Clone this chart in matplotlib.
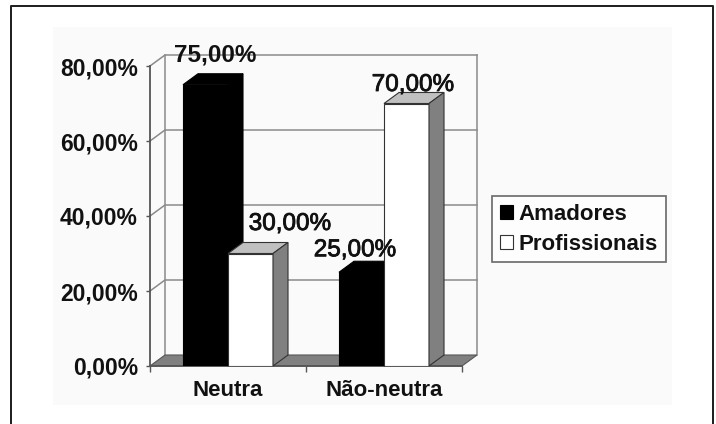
import matplotlib
matplotlib.use("Agg")
import matplotlib.pyplot as plt
import matplotlib.patheffects as pe
from matplotlib.patches import Polygon, Rectangle
from matplotlib.lines import Line2D

# ---- data -------------------------------------------------------------
categories = ["Neutra", "Não-neutra"]
series_names = ["Amadores", "Profissionais"]
amadores = [75.0, 25.0]
profissionais = [30.0, 70.0]
amadores_labels = ["75,00%", "25,00%"]
profissionais_labels = ["30,00%", "70,00%"]
yticks = [0, 20, 40, 60, 80]
ytick_labels = ["0,00%", "20,00%", "40,00%", "60,00%", "80,00%"]

# ---- layout / style ---------------------------------------------------
W, H = 716, 424
plt.rcParams["font.family"] = ["Liberation Sans", "DejaVu Sans"]

fig = plt.figure(figsize=(W / 100, H / 100), dpi=100)
fig.patch.set_facecolor("white")


def fx(px):
    return px / W


def fy(py):
    return 1 - py / H


PT = 72 / 100  # points per pixel
TXT = "#111111"
heavy = [pe.withStroke(linewidth=0.6, foreground=TXT)]

# outer frame (runs off the bottom edge)
fig.add_artist(Line2D([fx(11), fx(11), fx(712.5), fx(712.5)],
                      [0, fy(6), fy(6), 0], transform=fig.transFigure,
                      color="#222222", lw=2 * PT, zorder=5))
# faint chart-area panel
fig.add_artist(Rectangle((fx(53), fy(405)), (672 - 53) / W, (405 - 27) / H,
                         transform=fig.transFigure, facecolor="#fafafa",
                         edgecolor="none", zorder=-1))

n = len(categories)
ymax = yticks[-1]
DX = 15 / 156          # depth offset in category units
DY = 11 / 3.75         # depth offset in value units
BW = 0.2885            # bar width

ax = fig.add_axes([fx(150), fy(366), (477 - 150) / W, (366 - 55) / H])
ax.set_facecolor("none")
ax.set_xlim(0, n + DX)
ax.set_ylim(0, ymax + DY)
for s in ax.spines.values():
    s.set_visible(False)

grid_c = "#8a8a8a"
# floor
ax.add_patch(Polygon([(0, 0), (n, 0), (n + DX, DY), (DX, DY)], closed=True,
                     facecolor="#808080", edgecolor="#555555", lw=0.8,
                     zorder=1, clip_on=False))
# gridlines across the side and back walls
for y in yticks[1:]:
    ax.plot([0, DX, n + DX], [y, y + DY, y + DY], color=grid_c, lw=1.1,
            zorder=0.5, clip_on=False)
ax.plot([DX, DX], [DY, ymax + DY], color=grid_c, lw=1.1, zorder=0.5, clip_on=False)
ax.plot([n + DX, n + DX], [DY, ymax + DY], color=grid_c, lw=1.1, zorder=0.5,
        clip_on=False)
# front axes
ax.plot([0, 0], [0, ymax], color="#555555", lw=1.3, zorder=2, clip_on=False)
ax.plot([0, n], [0, 0], color="#555555", lw=1.3, zorder=2, clip_on=False)

series = [amadores, profissionais]
labels = [amadores_labels, profissionais_labels]
front_c = ["#000000", "#ffffff"]
top_c = ["#000000", "#c0c0c0"]
side_c = ["#000000", "#808080"]
edge_c = ["#000000", "#333333"]
# label offsets (pixels) from the front-top centre of each bar
label_offsets = [[(10, 30), (-6.5, 22)], [(39.5, 29.5), (6.5, 18.5)]]
label_weight = [["bold", "normal"], ["normal", "normal"]]

handles = []
for j, vals in enumerate(series):
    xs = [i + 0.5 - BW + j * BW for i in range(n)]
    bars = ax.bar(xs, vals, BW, align="edge", color=front_c[j],
                  edgecolor=edge_c[j], lw=0.8, label=series_names[j])
    handles.append(bars)
    for i, (x0, v, rect) in enumerate(zip(xs, vals, bars)):
        z = 3 + 2 * (i * len(series) + j)
        rect.set_zorder(z)
        ax.add_patch(Polygon([(x0, v), (x0 + BW, v), (x0 + BW + DX, v + DY),
                              (x0 + DX, v + DY)], closed=True,
                             facecolor=top_c[j], edgecolor=edge_c[j], lw=0.8,
                             zorder=z, clip_on=False))
        ax.add_patch(Polygon([(x0 + BW, 0), (x0 + BW + DX, DY),
                              (x0 + BW + DX, v + DY), (x0 + BW, v)], closed=True,
                             facecolor=side_c[j], edgecolor=edge_c[j], lw=0.8,
                             zorder=z, clip_on=False))
        ox, oy = label_offsets[j][i]
        t = ax.annotate(labels[j][i], (x0 + BW / 2, v), xytext=(ox, oy),
                        textcoords="offset pixels", ha="center", va="center",
                        fontsize=17.5, fontweight=label_weight[j][i],
                        color=TXT, zorder=30, annotation_clip=False)
        if label_weight[j][i] == "normal":
            t.set_path_effects(heavy)

# y axis ticks and labels
ax.set_yticks(yticks, ytick_labels)
ax.tick_params(axis="y", length=4 * PT, width=1, color="#555555",
               pad=8 * PT, labelsize=16.5, labelcolor=TXT)
for t in ax.get_yticklabels():
    t.set_fontweight("bold")

# x axis: tick marks at category boundaries, labels at centres
ax.set_xticks(range(n + 1), [""] * (n + 1))
ax.set_xticks([i + 0.5 for i in range(n)], categories, minor=True)
ax.tick_params(axis="x", which="major", length=6 * PT, width=1, color="#555555")
ax.tick_params(axis="x", which="minor", length=0, pad=14 * PT, labelsize=16,
               labelcolor=TXT)
for t in ax.get_xticklabels(minor=True):
    t.set_fontweight("bold")

leg = ax.legend(handles=handles, labels=series_names, loc="upper left",
                bbox_to_anchor=(fx(492), fy(196)), bbox_transform=fig.transFigure,
                borderaxespad=0, fancybox=False, frameon=True,
                prop={"weight": "bold", "size": 16}, handlelength=0.6,
                handleheight=0.6, handletextpad=0.25, labelspacing=0.4,
                borderpad=0.35)
leg.get_frame().set_edgecolor("#444444")
leg.get_frame().set_linewidth(1.2)
for txt in leg.get_texts():
    txt.set_color(TXT)

fig.savefig("out.png", dpi=100)
